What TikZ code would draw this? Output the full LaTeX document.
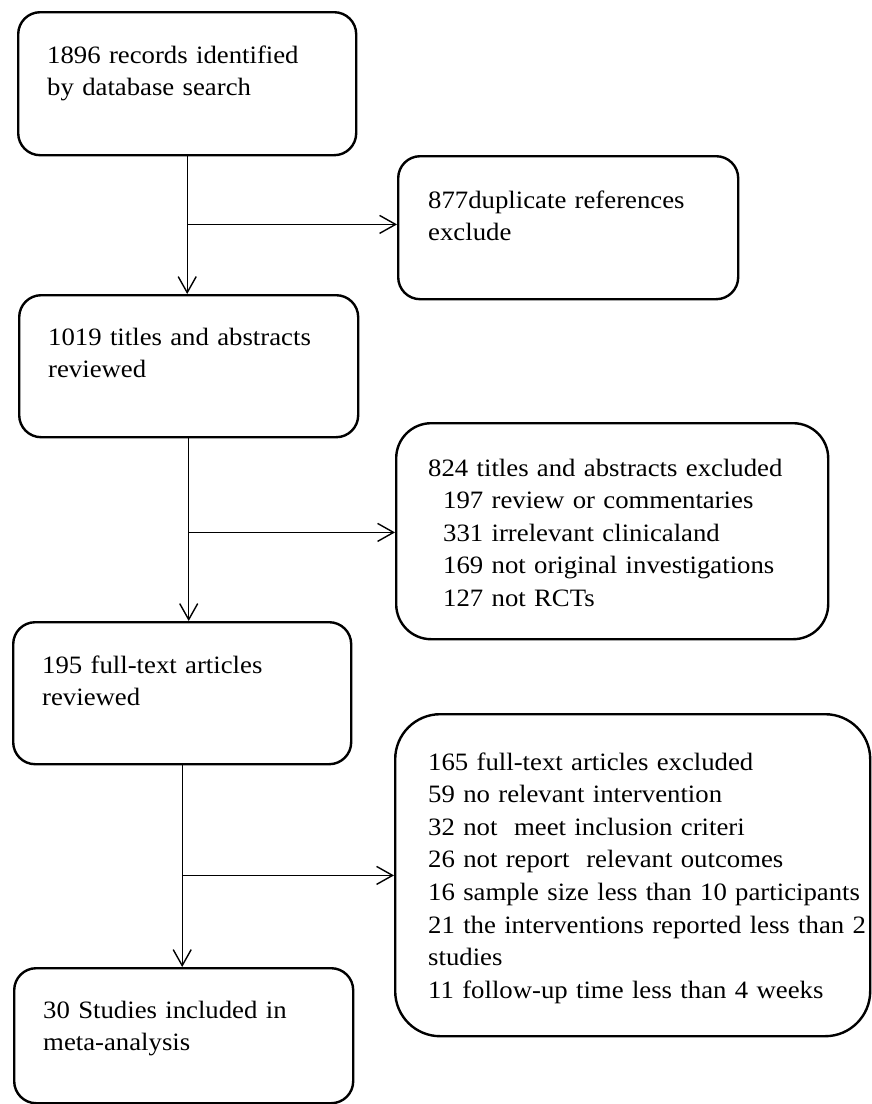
\documentclass[tikz,border=0pt]{standalone}
\usepackage{fontspec}
\setmainfont{Liberation Serif}[FakeStretch=1.07]
\usetikzlibrary{arrows.meta}
\begin{document}
\begin{tikzpicture}[x=1pt,y=-1pt,
  box/.style={draw, line width=2.4pt, rounded corners=22pt, anchor=north west, inner sep=0pt},
  txt/.style={anchor=base west, inner sep=0pt, align=left, text width=#1, font=\fontsize{25}{32.6}\selectfont},
  conn/.style={line width=1.4pt},
  arr/.style={conn, -{Straight Barb[length=16pt,width=18pt]}}]
\useasboundingbox (0,0) rectangle (871,1104);
% boxes
\node[box, minimum width=338pt, minimum height=143pt] (b1) at (17,11) {};
\node[box, minimum width=340pt, minimum height=143pt] (b2) at (397,155) {};
\node[box, minimum width=339pt, minimum height=142pt] (b3) at (18,294) {};
\node[box, rounded corners=35pt, minimum width=432pt, minimum height=216pt] (b4) at (395,422) {};
\node[box, minimum width=338pt, minimum height=142pt] (b5) at (12,621) {};
\node[box, rounded corners=45pt, minimum width=475pt, minimum height=322pt] (b6) at (394,713) {};
\node[box, minimum width=339pt, minimum height=135pt] (b7) at (13,967) {};
% texts
\node[txt=300pt] (t1) at (47,63) {1896 records identified\\by database search};
\node[txt=300pt] (t2) at (428,208) {877duplicate references\\exclude};
\node[txt=300pt] (t3) at (48,345) {1019 titles and abstracts\\reviewed};
\node[txt=390pt] (t4) at (428,476) {824 titles and abstracts excluded\\
\hspace*{15pt}197 review or commentaries\\
\hspace*{15pt}331 irrelevant clinicaland\\
\hspace*{15pt}169 not original investigations\\
\hspace*{15pt}127 not RCTs};
\node[txt=300pt] (t5) at (42,673) {195 full-text articles\\reviewed};
\node[txt=445pt] (t6) at (428,770) {165 full-text articles excluded\\
59 no relevant intervention\\
32 not\ \ meet inclusion criteri\\
26 not report\ \ relevant outcomes\\
16 sample size less than 10 participants\\
21 the interventions reported less than 2\\
studies\\
11 follow-up time less than 4 weeks};
\node[txt=300pt] (t7) at (43,1018) {30 Studies included in\\meta-analysis};
% connectors
\path (b1.south) ++(0,68) coordinate (j1);
\path (b3.south) ++(0,94) coordinate (j2);
\path (b5.south) ++(0,110) coordinate (j3);
\draw[arr] (b1.south) -- (b1.south |- b3.north);
\draw[arr] (j1) -- (j1 -| b2.west);
\draw[arr] (b3.south) -- (b3.south |- b5.north);
\draw[arr] (j2) -- (j2 -| b4.west);
\draw[arr] (b5.south) -- (b5.south |- b7.north);
\draw[arr] (j3) -- (j3 -| b6.west);
\end{tikzpicture}
\end{document}
